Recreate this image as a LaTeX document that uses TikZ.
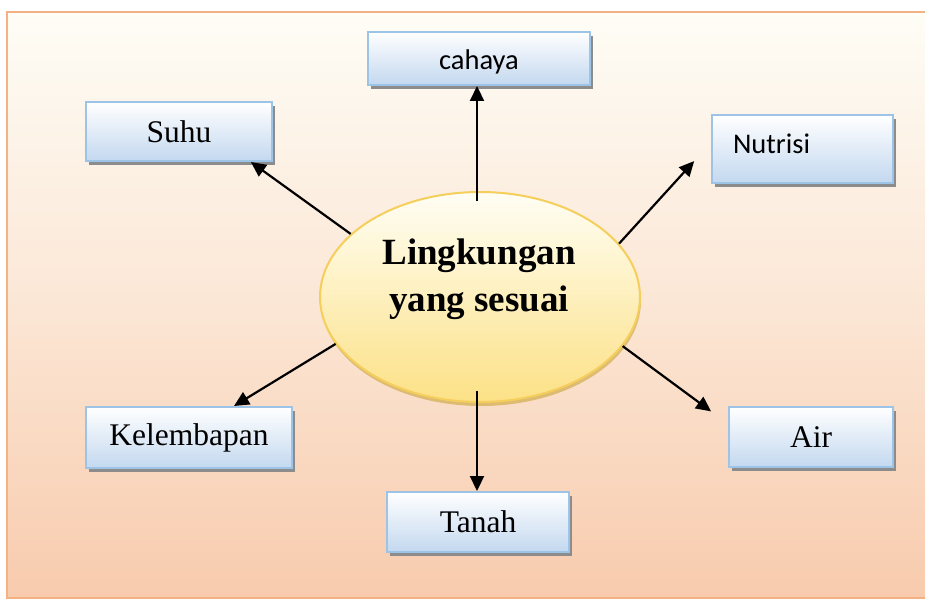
\documentclass[tikz,border=0pt]{standalone}
\usepackage{fontspec}
\setmainfont{Liberation Serif}
\newfontfamily\calibri{Carlito}
\usetikzlibrary{arrows.meta,shadows,shapes.geometric,calc}
\definecolor{bgtop}{HTML}{FEFDF6}
\definecolor{bgbot}{HTML}{F8CBAD}
\definecolor{frameor}{HTML}{F4B183}
\definecolor{boxline}{HTML}{9DC3E6}
\definecolor{boxbot}{HTML}{C3D8EF}
\definecolor{boxshadow}{HTML}{8C8C8C}
\definecolor{elltop}{HTML}{FFFEF4}
\definecolor{ellbot}{HTML}{FCE186}
\definecolor{ellline}{HTML}{F5CE5C}
\definecolor{ellshadow}{HTML}{D2AE4E}
\begin{document}
\begin{tikzpicture}[x=1pt,y=-1pt,
  boxnode/.style={draw=boxline, line width=2pt, top color=white, bottom color=boxbot,
    drop shadow={shadow xshift=3pt, shadow yshift=-4pt, fill=boxshadow, opacity=1},
    inner sep=0pt, font=\fontsize{31.5}{37}\selectfont},
  sansbox/.style={boxnode, font=\calibri\fontsize{28.5}{34}\selectfont},
  conn/.style={line width=2.2pt, -{Triangle[length=15pt,width=14pt]}}]
\useasboundingbox (0,0) rectangle (925,599);
\fill[white] (0,0) rectangle (925,599);
\shade[top color=bgtop, bottom color=bgbot, middle color=bgtop!55!bgbot] (7,12) rectangle (940,598);
\draw[frameor, line width=2.5pt] (7,12) rectangle (940,598);

\node[ellipse, draw=ellline, line width=2pt, top color=elltop, bottom color=ellbot,
  drop shadow={shadow xshift=1pt, shadow yshift=-4pt, fill=ellshadow, opacity=0.7},
  minimum width=320pt, minimum height=210pt] (ell) at (480,297) {};
\node[font=\bfseries\fontsize{37}{47}\selectfont, align=center] (elltext) at (479,279) {Lingkungan\\yang sesuai};

\node[sansbox, minimum width=222pt, minimum height=53pt, text height=23pt, text depth=0pt] (cahaya) at (479,58.5) {cahaya};
\node[boxnode, minimum width=186pt, minimum height=59pt] (suhu) at (179,131.5) {Suhu};
\node[sansbox, minimum width=181pt, minimum height=68pt, text width=139pt, align=left, text height=18pt, text depth=10pt] (nutrisi) at (802.5,149) {Nutrisi};
\node[boxnode, minimum width=206pt, minimum height=61pt] (kel) at (189,437.5) {Kelembapan};
\node[boxnode, minimum width=164pt, minimum height=60pt] (air) at (811,437) {Air};
\node[boxnode, minimum width=182pt, minimum height=60pt] (tanah) at (478,522) {Tanah};

\coordinate (ctop) at ($(ell.north)+(-3,10)$);
\coordinate (cbot) at ($(ell.south)+(-3,-12)$);
\draw[conn] (ctop) -- (ctop |- cahaya.south);
\draw[conn] (cbot) -- (cbot |- tanah.north);
\draw[conn] (ell.154) -- (suhu.-23);
\draw[conn, shorten >=25pt] (ell.21) -- (nutrisi.176);
\draw[conn] (ell.198) -- (kel.35);
\draw[conn, shorten >=21pt] (ell.-19) -- (air.171);
\end{tikzpicture}
\end{document}
